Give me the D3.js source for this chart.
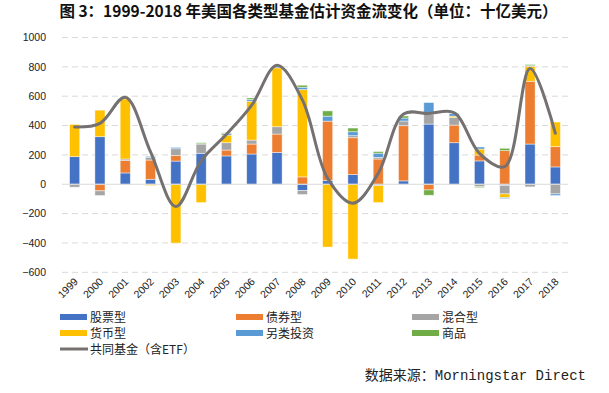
<!DOCTYPE html>
<html>
<head>
<meta charset="utf-8">
<script src="https://cdn.jsdelivr.net/npm/d3@7"></script>
<style>
  body { margin: 0; background: #fff; }
  svg { display: block; }
</style>
</head>
<body>
<div id="chart-area"></div>
<script>
// Annual estimated flows by fund type, billions USD
const years = ['1999', '2000', '2001', '2002', '2003', '2004', '2005', '2006', '2007', '2008',
               '2009', '2010', '2011', '2012', '2013', '2014', '2015', '2016', '2017', '2018'];
const seriesNames = ['股票型', '债券型', '混合型', '货币型', '另类投资', '商品'];
const equity      = [188, 324, 77, 34, 158, 211, 193, 206, 217, -43, 27, 66, -9, 23, 410, 283, 159, -9, 274, 118];
const bond        = [0, -45, 84, 131, 39, 0, 40, 68, 125, 50, 403, 251, 172, 376, -39, 120, 40, 229, 428, 138];
const hybrid      = [-20, -32, 11, 18, 45, 63, 50, 27, 50, -27, 0, 14, 11, 32, 68, 52, -16, -57, -18, -66];
const money       = [220, 181, 410, -9, -401, -125, 52, 265, 401, 595, -428, -510, -116, 0, 12, 9, 41, -25, 102, 168];
const alternative = [0, 0, 0, 7, 9, 2, 11, 11, 8, 16, 34, 27, 29, 20, 67, 18, 14, -7, 4, -11];
const commodity   = [0, 0, 5, 0, 0, 7, 5, 11, 0, 14, 36, 25, 11, 14, -36, 0, -7, 16, 8, 0];
const mutualFunds = [390, 415, 593, 220, -152, 160, 340, 539, 811, 575, 40, -129, 75, 478, 482, 487, 211, 120, 788, 347];
const yTicks = [-600, -400, -200, 0, 200, 400, 600, 800, 1000];

const colors = ['#4472C4', '#ED7D31', '#A5A5A5', '#FFC000', '#5B9BD5', '#70AD47'];
const lineColor = '#767171';

const W = 609, H = 393;
const margin = {top: 37.5, right: 41, bottom: 120.7, left: 62};
const wGraph = W - margin.left - margin.right;
const hGraph = H - margin.top - margin.bottom;

const cjk = '"Noto Sans CJK SC", "Noto Sans", sans-serif';

const svg = d3.select('#chart-area')
    .append('svg')
    .attr('width', W)
    .attr('height', H);

// Title
svg.append('text')
    .attr('x', W / 2 + 4)
    .attr('y', 17)
    .attr('text-anchor', 'middle')
    .attr('font-family', cjk)
    .attr('font-size', '15.5px')
    .attr('font-weight', 'bold')
    .attr('fill', '#111')
    .text('图 3：1999-2018 年美国各类型基金估计资金流变化（单位：十亿美元）');

const graph = svg.append('g')
    .attr('transform', `translate(${margin.left}, ${margin.top})`);

const xScale = d3.scaleBand()
    .domain(years)
    .range([0, wGraph])
    .paddingInner(0.6)
    .paddingOuter(0.3);

const yScale = d3.scaleLinear()
    .domain([-600, 1000])
    .range([hGraph, 0]);

// Gridlines
graph.append('g')
    .selectAll('line')
    .data(yTicks.filter(d => d !== 0))
    .enter()
    .append('line')
    .attr('x1', 0)
    .attr('x2', wGraph)
    .attr('y1', d => yScale(d))
    .attr('y2', d => yScale(d))
    .attr('stroke', '#d9d9d9')
    .attr('stroke-width', 1)
    .attr('stroke-dasharray', '6,4');

// Y axis labels
const yAxisCall = d3.axisLeft(yScale)
    .tickValues(yTicks)
    .tickSize(0)
    .tickPadding(16)
    .tickFormat(d3.format('d'));
const yAxis = graph.append('g').call(yAxisCall);
yAxis.select('.domain').remove();
yAxis.selectAll('text')
    .attr('font-family', '"Liberation Sans", Arial, sans-serif')
    .attr('font-size', '10.5px')
    .attr('fill', '#222');

// Stacked bars
const rows = years.map((y, i) => ({
    year: y,
    s0: equity[i], s1: bond[i], s2: hybrid[i],
    s3: money[i], s4: alternative[i], s5: commodity[i]
}));
const stack = d3.stack()
    .keys(['s0', 's1', 's2', 's3', 's4', 's5'])
    .offset(d3.stackOffsetDiverging);
const layers = stack(rows);

graph.selectAll('g.layer')
    .data(layers)
    .enter()
    .append('g')
    .attr('class', 'layer')
    .attr('fill', (d, i) => colors[i])
    .selectAll('rect')
    .data(d => d.filter(p => p[1] !== p[0]))
    .enter()
    .append('rect')
    .attr('x', d => xScale(d.data.year))
    .attr('y', d => yScale(Math.max(d[0], d[1])))
    .attr('width', xScale.bandwidth())
    .attr('height', d => Math.abs(yScale(d[0]) - yScale(d[1])))
    .attr('stroke', '#fff')
    .attr('stroke-opacity', 0.6)
    .attr('stroke-width', 0.75);

// Zero line
graph.append('line')
    .attr('x1', 0)
    .attr('x2', wGraph)
    .attr('y1', yScale(0))
    .attr('y2', yScale(0))
    .attr('stroke', '#d9d9d9')
    .attr('stroke-width', 1.2);

// X axis labels (rotated)
graph.append('g')
    .selectAll('text')
    .data(years)
    .enter()
    .append('text')
    .attr('transform', d => `translate(${xScale(d) + xScale.bandwidth() / 2 + 4}, ${hGraph + 10}) rotate(-45)`)
    .attr('text-anchor', 'end')
    .attr('font-family', '"Liberation Sans", Arial, sans-serif')
    .attr('font-size', '10.5px')
    .attr('fill', '#222')
    .text(d => d);

// Mutual fund line
const line = d3.line()
    .x((d, i) => xScale(years[i]) + xScale.bandwidth() / 2)
    .y(d => yScale(d))
    .curve(d3.curveCatmullRom.alpha(0.5));

graph.append('path')
    .datum(mutualFunds)
    .attr('d', line)
    .attr('fill', 'none')
    .attr('stroke', lineColor)
    .attr('stroke-width', 3)
    .attr('stroke-linecap', 'round');

// Legend
const legend = svg.append('g');
const colX = [60, 236, 412];
const rowY = [317, 333];
seriesNames.forEach((name, i) => {
    const gx = colX[i % 3];
    const gy = rowY[Math.floor(i / 3)];
    legend.append('rect')
        .attr('x', gx)
        .attr('y', gy - 3)
        .attr('width', 27)
        .attr('height', 6)
        .attr('fill', colors[i]);
    legend.append('text')
        .attr('x', gx + 30)
        .attr('y', gy + 4.5)
        .attr('font-family', cjk)
        .attr('font-size', '12px')
        .attr('fill', '#222')
        .text(name);
});
legend.append('line')
    .attr('x1', 60)
    .attr('x2', 88)
    .attr('y1', 349)
    .attr('y2', 349)
    .attr('stroke', lineColor)
    .attr('stroke-width', 3);
legend.append('text')
    .attr('x', 90)
    .attr('y', 353.5)
    .attr('font-family', cjk)
    .attr('font-size', '12px')
    .attr('fill', '#222')
    .text('共同基金（含ETF）');

// Source note
const src = svg.append('text')
    .attr('x', 586)
    .attr('y', 380)
    .attr('text-anchor', 'end')
    .attr('font-size', '14px')
    .attr('fill', '#222');
src.append('tspan')
    .attr('font-family', cjk)
    .text('数据来源：');
src.append('tspan')
    .attr('font-family', '"Liberation Mono", monospace')
    .text('Morningstar Direct');
</script>
</body>
</html>
